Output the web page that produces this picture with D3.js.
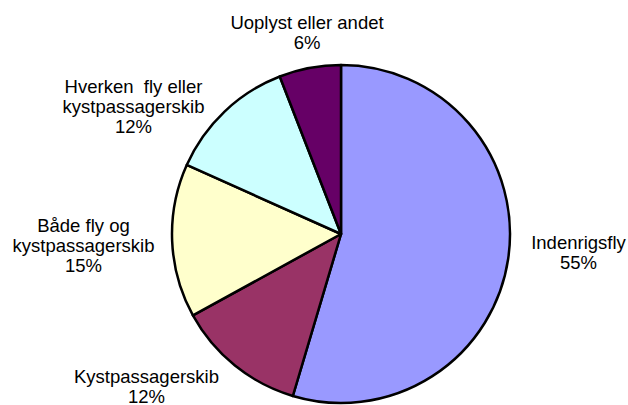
<!DOCTYPE html>
<html>
<head>
<meta charset="utf-8">
<script src="https://cdn.jsdelivr.net/npm/d3@7"></script>
<style>
  html, body { margin: 0; padding: 0; background: #fff; }
  svg { display: block; }
  text { font-family: "Liberation Sans", Arial, sans-serif; fill: #000; white-space: pre; }
</style>
</head>
<body>
<svg id="chart" width="628" height="405"></svg>
<script>
const categories = ["Indenrigsfly", "Kystpassagerskib", "Både fly og kystpassagerskib", "Hverken  fly eller kystpassagerskib", "Uoplyst eller andet"];
const values = [54.6, 12.4, 14.7, 12.4, 5.9];
const percentLabels = ["55%", "12%", "15%", "12%", "6%"];
const labelLines = [
  ["Indenrigsfly"],
  ["Kystpassagerskib"],
  ["Både fly og", "kystpassagerskib"],
  ["Hverken  fly eller", "kystpassagerskib"],
  ["Uoplyst eller andet"]
];
const colors = ["#9999FF", "#993366", "#FFFFCC", "#CCFFFF", "#660066"];

const W = 628, H = 405;
const cx = 341, cy = 234, r = 169;
// label anchor (centre x, first baseline y) for each slice
const labelPos = [
  [578.5, 249],
  [146.5, 383],
  [83.5, 232],
  [133.5, 93],
  [307, 29]
];
const lineGap = 20;

const svg = d3.select("#chart");
const data = categories.map((c, i) => ({ cat: c, value: values[i], i }));

const pie = d3.pie().sort(null).value(d => d.value).startAngle(0).endAngle(2 * Math.PI);
const arc = d3.arc().innerRadius(0).outerRadius(r);

const g = svg.append("g").attr("transform", `translate(${cx},${cy})`);
g.selectAll("path")
  .data(pie(data))
  .join("path")
  .attr("d", arc)
  .attr("fill", d => colors[d.data.i])
  .attr("stroke", "#000")
  .attr("stroke-width", 2.5)
  .attr("stroke-linejoin", "round");

const labels = svg.append("g");
data.forEach((d, i) => {
  const lines = labelLines[i].concat([percentLabels[i]]);
  const t = labels.append("text")
    .attr("text-anchor", "middle")
    .attr("font-size", "18.5px");
  lines.forEach((ln, k) => {
    t.append("tspan")
      .attr("x", labelPos[i][0])
      .attr("y", labelPos[i][1] + k * lineGap)
      .text(ln);
  });
});
</script>
</body>
</html>
